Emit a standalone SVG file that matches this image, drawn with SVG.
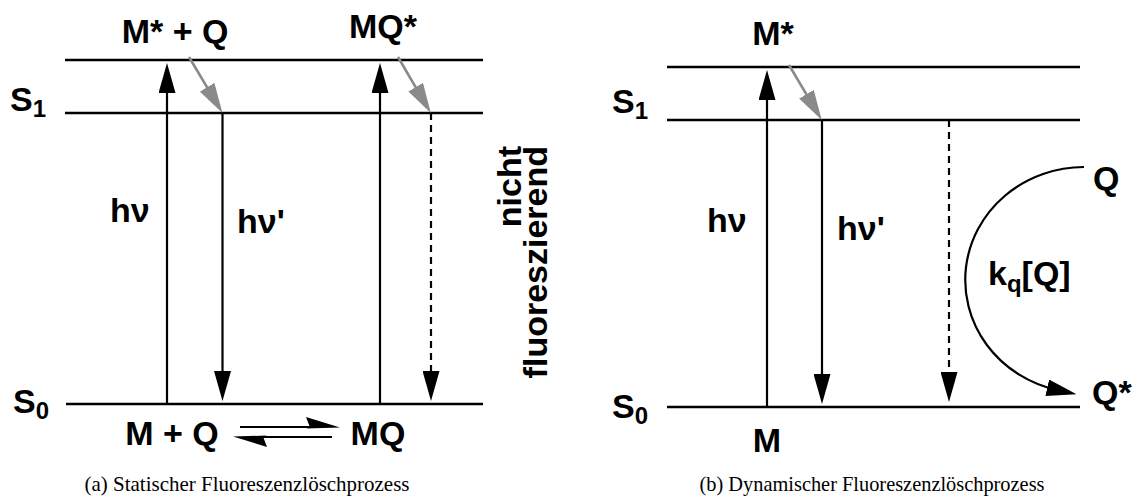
<svg xmlns="http://www.w3.org/2000/svg" width="1137" height="504" viewBox="0 0 1137 504">
<style>
.lvl{stroke:#000;stroke-width:2.6;fill:none}
.ar{stroke:#000;stroke-width:2.2;fill:none}
.gr{stroke:#8a8a8a;stroke-width:2.6;fill:none}
.ds{stroke:#000;stroke-width:2.2;fill:none;stroke-dasharray:7 5}
.lb{font-family:"Liberation Sans",Arial,sans-serif;font-weight:bold;font-size:34px;fill:#000}
.sub{font-size:24px}
.cap{font-family:"Liberation Serif","Times New Roman",serif;font-size:22px;fill:#000}
</style>
<defs>
<marker id="ah" markerUnits="userSpaceOnUse" viewBox="0 0 30 17" refX="10" refY="8.5" markerWidth="30" markerHeight="17" orient="auto"><path d="M0,0 L30,8.5 L0,17 z" fill="#000"/></marker>
<marker id="ahg" markerUnits="userSpaceOnUse" viewBox="0 0 30 17" refX="10" refY="8.5" markerWidth="30" markerHeight="17" orient="auto"><path d="M0,0 L30,8.5 L0,17 z" fill="#8a8a8a"/></marker>
</defs>

<g id="levels-a">
<line class="lvl" x1="65" y1="60" x2="483" y2="60"/>
<line class="lvl" x1="65" y1="113" x2="483" y2="113"/>
<line class="lvl" x1="66" y1="404" x2="483" y2="404"/>
</g>
<g id="labels-a">
<text class="lb" x="10" y="111">S<tspan class="sub" dy="6">1</tspan></text>
<text class="lb" x="13" y="413">S<tspan class="sub" dy="6">0</tspan></text>
<text class="lb" x="175" y="43" text-anchor="middle">M* + Q</text>
<text class="lb" x="383" y="38" text-anchor="middle">MQ*</text>
<text class="lb" x="172" y="445" text-anchor="middle">M + Q</text>
<text class="lb" x="378" y="445" text-anchor="middle">MQ</text>
<text class="lb" x="110" y="222">hν</text>
<text class="lb" x="237" y="233">hν'</text>
<text class="lb" transform="translate(521,146) rotate(-90)" text-anchor="end">nicht</text>
<text class="lb" transform="translate(547,146) rotate(-90)" text-anchor="end">fluoreszierend</text>
<text class="cap" x="247" y="491" text-anchor="middle" textLength="325" lengthAdjust="spacingAndGlyphs">(a) Statischer Fluoreszenzlöschprozess</text>
</g>

<g id="levels-b">
<line class="lvl" x1="667" y1="67" x2="1080" y2="67"/>
<line class="lvl" x1="667" y1="120" x2="1080" y2="120"/>
<line class="lvl" x1="667" y1="407" x2="1080" y2="407"/>
</g>
<g id="labels-b">
<text class="lb" x="612" y="113">S<tspan class="sub" dy="6">1</tspan></text>
<text class="lb" x="612" y="418">S<tspan class="sub" dy="6">0</tspan></text>
<text class="lb" x="773" y="45" text-anchor="middle">M*</text>
<text class="lb" x="767" y="452" text-anchor="middle">M</text>
<text class="lb" x="707" y="232">hν</text>
<text class="lb" x="837" y="240">hν'</text>
<text class="lb" x="1093" y="190">Q</text>
<text class="lb" x="1092" y="404">Q*</text>
<text class="lb" x="988" y="285">k<tspan class="sub" dy="7">q</tspan><tspan dy="-7">[Q]</tspan></text>
<text class="cap" x="872" y="491" text-anchor="middle" textLength="345" lengthAdjust="spacingAndGlyphs">(b) Dynamischer Fluoreszenzlöschprozess</text>
</g>

<g id="connectors">
<line class="ar" x1="167" y1="404" x2="167" y2="83" marker-end="url(#ah)"/>
<line class="gr" x1="189" y1="57" x2="212.2" y2="95.8" marker-end="url(#ahg)"/>
<line class="ar" x1="222.5" y1="113" x2="222.5" y2="381" marker-end="url(#ah)"/>
<line class="ar" x1="380" y1="404" x2="380" y2="83" marker-end="url(#ah)"/>
<line class="gr" x1="398" y1="57" x2="420.7" y2="95.8" marker-end="url(#ahg)"/>
<line class="ds" x1="431" y1="113" x2="431" y2="381" marker-end="url(#ah)"/>
<line class="ar" x1="240" y1="427" x2="320" y2="427"/>
<path d="M340,427.5 L306,417 L310,427.5 L306,428.5 z" fill="#000"/>
<line class="ar" x1="250" y1="437" x2="332" y2="437"/>
<path d="M233,436.5 L267,447 L263,436.5 L267,435.5 z" fill="#000"/>

<line class="ar" x1="767" y1="407" x2="767" y2="90" marker-end="url(#ah)"/>
<line class="gr" x1="789" y1="65" x2="811.5" y2="102.8" marker-end="url(#ahg)"/>
<line class="ar" x1="822" y1="120" x2="822" y2="384" marker-end="url(#ah)"/>
<line class="ds" x1="949" y1="120" x2="949" y2="382" marker-end="url(#ah)"/>
<path class="ar" d="M1084,167 A119,113 0 0 0 1057,390" marker-end="url(#ah)"/>
</g>
</svg>
